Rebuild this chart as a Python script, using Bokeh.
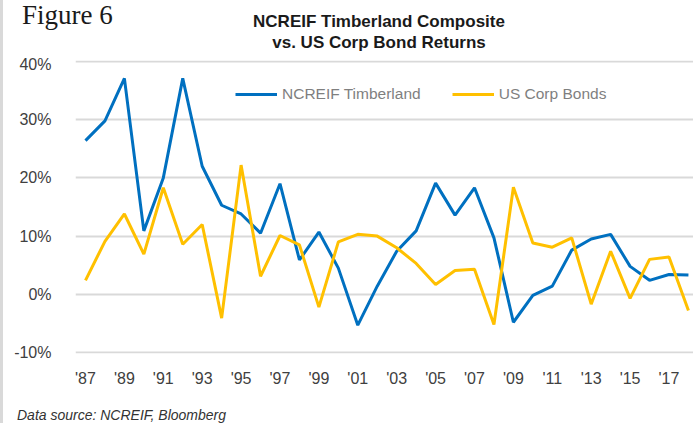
from bokeh.plotting import figure
from bokeh.layouts import column
from bokeh.models import Range1d, FixedTicker, PrintfTickFormatter, Legend, LegendItem, Div
from bokeh.embed import file_html
from bokeh.resources import INLINE

years = list(range(1987, 2019))
timberland = [26.4, 29.8, 37.1, 10.9, 20.0, 37.1, 22.0, 15.3, 13.8, 10.5, 19.0, 5.9,
              10.7, 4.5, -5.3, 1.4, 7.4, 10.9, 19.1, 13.6, 18.3, 9.7, -4.8, -0.2,
              1.4, 7.6, 9.5, 10.3, 4.8, 2.4, 3.4, 3.3]
corp_bonds = [2.4, 9.1, 13.8, 6.9, 18.3, 8.6, 12.0, -4.1, 22.2, 3.1, 10.1, 8.5,
              -2.2, 9.0, 10.3, 10.0, 8.0, 5.3, 1.7, 4.1, 4.3, -5.2, 18.4, 8.8,
              8.1, 9.7, -1.7, 7.4, -0.7, 6.0, 6.4, -2.8]
x_ticks = list(range(1987, 2018, 2))
x_tick_labels = {y: "'" + str(y)[2:] for y in x_ticks}
y_ticks = [-10, 0, 10, 20, 30, 40]
series_names = ["NCREIF Timberland", "US Corp Bonds"]
title_lines = ["NCREIF Timberland Composite", "vs. US Corp Bond Returns"]
figure_label = "Figure 6"
source_note = "Data source: NCREIF, Bloomberg"

SANS = "'Liberation Sans', Arial, sans-serif"
W = 693


def span(text, left, top, font, size, color, extra=""):
    return (f'<span style="position:absolute;left:{left}px;top:{top}px;font-family:{font};'
            f'font-size:{size}px;line-height:1;color:{color};white-space:nowrap;{extra}">{text}</span>')


head_html = ('<div style="position:relative;width:693px;height:55px;margin:0;padding:0;">'
             + span(figure_label, 22, 2.4, "'Liberation Serif', serif", 27, "#1a1a1a")
             + span(title_lines[0], 379, 12.6, SANS, 17, "#1a1a1a",
                    "font-weight:bold;transform:translateX(-50%);")
             + span(title_lines[1], 379, 33.6, SANS, 17, "#1a1a1a",
                    "font-weight:bold;transform:translateX(-50%);")
             + '</div>')
head = Div(text=head_html, width=W, height=55, margin=(0, 0, 0, 0))

# main chart (page y 55..390), frame 60..353, x 75..693
p = figure(width=W, height=335, output_backend="svg", toolbar_location=None,
           title=None, x_range=Range1d(1986.486, 2018.26), y_range=Range1d(-10.17, 40.17),
           min_border_left=75, min_border_right=0, min_border_top=5, min_border_bottom=37)
p.outline_line_color = None
p.background_fill_color = "white"
p.border_fill_alpha = 0
p.xgrid.grid_line_color = None
p.ygrid.grid_line_color = "#d9d9d9"
p.ygrid.grid_line_width = 2
p.yaxis.ticker = FixedTicker(ticks=y_ticks)
p.xaxis.ticker = FixedTicker(ticks=x_ticks)
p.xaxis.major_label_overrides = x_tick_labels
p.yaxis.formatter = PrintfTickFormatter(format="%d%%")
for ax in (p.xaxis, p.yaxis):
    ax.axis_line_color = None
    ax.major_tick_line_color = None
    ax.minor_tick_line_color = None
    ax.major_label_text_font = SANS
    ax.major_label_text_font_size = "16px"
    ax.major_label_text_color = "#404040"
p.yaxis.major_label_standoff = 18
p.xaxis.major_label_standoff = 10

r1 = p.line(years, timberland, line_color="#0070C0", line_width=3)
r2 = p.line(years, corp_bonds, line_color="#FFC000", line_width=3)

legend = Legend(items=[LegendItem(label=series_names[0], renderers=[r1]),
                       LegendItem(label=series_names[1], renderers=[r2])],
                orientation="horizontal", location=(160, 249),
                glyph_width=42, glyph_height=20, label_standoff=5, spacing=31,
                padding=0, margin=0, border_line_alpha=0, background_fill_alpha=0,
                label_text_font=SANS, label_text_font_size="15.5px",
                label_text_color="#7f7f7f")
p.add_layout(legend, "center")

foot_html = ('<div style="position:relative;width:693px;height:33px;margin:0;padding:0;">'
             + span(source_note, 17, 18.2, SANS, 14, "#333333", "font-style:italic;")
             + '</div>')
foot = Div(text=foot_html, width=W, height=33, margin=(0, 0, 0, 0))

layout = column(head, p, foot, spacing=0,
                styles={"background": "linear-gradient(to right, #d9d9d9 0px, #d9d9d9 3px, #ffffff 3px)"})

open("out.html", "w").write(file_html(layout, INLINE))
